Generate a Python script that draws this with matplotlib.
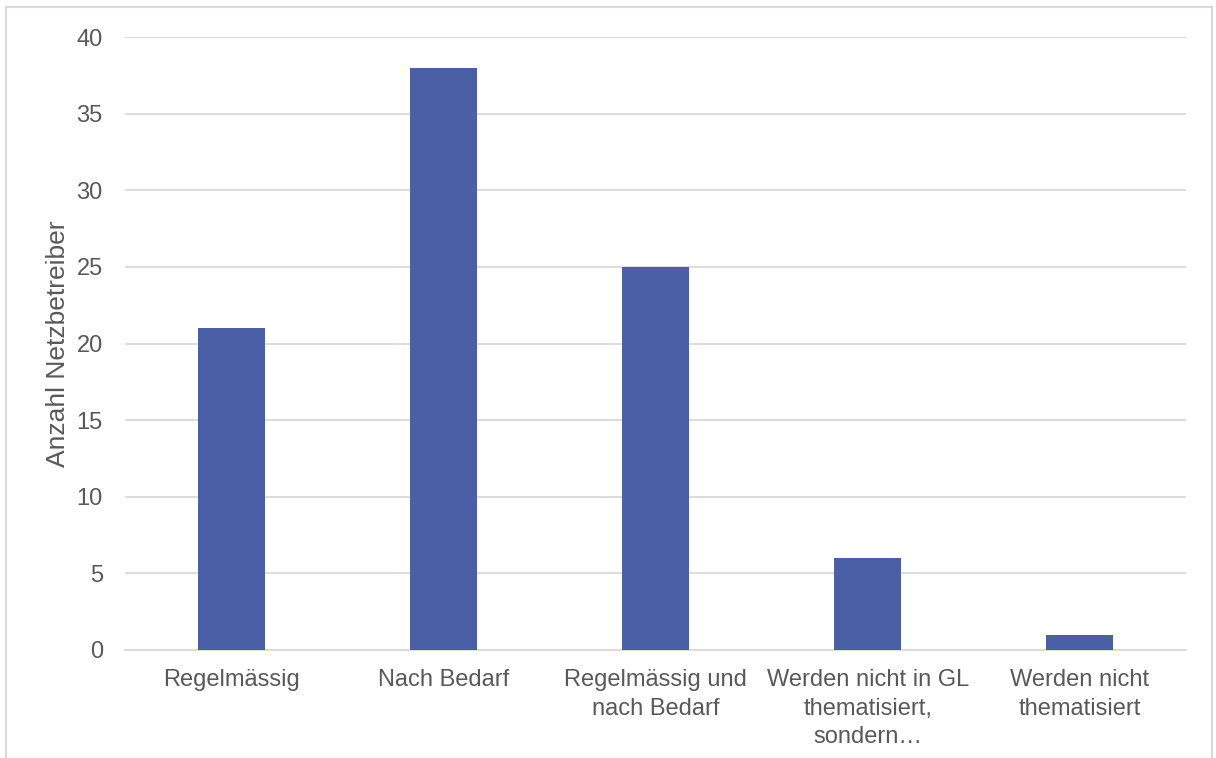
import matplotlib
matplotlib.use("Agg")
import matplotlib.pyplot as plt
from matplotlib.patches import Rectangle

categories = [
    "Regelmässig",
    "Nach Bedarf",
    "Regelmässig und\nnach Bedarf",
    "Werden nicht in GL\nthematisiert,\nsondern…",
    "Werden nicht\nthematisiert",
]
values = [21, 38, 25, 6, 1]
y_ticks = [0, 5, 10, 15, 20, 25, 30, 35, 40]

plt.rcParams["font.family"] = ["Liberation Sans", "DejaVu Sans"]

bar_color = "#4A5FA5"
text_color = "#595959"
grid_color = "#D9D9D9"

fig = plt.figure(figsize=(12.16, 7.58), dpi=100)
ax = fig.add_axes([125 / 1216, 1 - 650 / 758, (1186 - 125) / 1216, (650 - 37) / 758])

x = list(range(len(categories)))
ax.bar(x, values, width=0.316, color=bar_color, zorder=3)

ax.set_xlim(-0.5, len(categories) - 0.5)
ax.set_ylim(0, 40)
ax.set_yticks(y_ticks)
ax.set_xticks(x)
ax.set_xticklabels(categories, fontsize=17, color=text_color, linespacing=1.36)
ax.tick_params(axis="y", length=0, pad=16, labelsize=17, labelcolor=text_color)
ax.tick_params(axis="x", length=0, pad=14)

ax.yaxis.grid(True, color=grid_color, linewidth=1.3, zorder=0)
ax.set_axisbelow(True)
for side in ("top", "right", "left"):
    ax.spines[side].set_visible(False)
ax.spines["bottom"].set_color(grid_color)
ax.spines["bottom"].set_linewidth(1.3)

ax.set_ylabel("Anzahl Netzbetreiber", fontsize=19, color=text_color)
ax.yaxis.label.set_va("center")
ax.yaxis.set_label_coords(-0.0631, 0.5)

# light frame around the chart area
fig.patches.append(Rectangle((6 / 1216, -0.05), (1212 - 6) / 1216, 1.05 - 7 / 758,
                             transform=fig.transFigure, fill=False,
                             edgecolor="#D9D9D9", linewidth=1.5))

fig.savefig("out.png", dpi=100)
